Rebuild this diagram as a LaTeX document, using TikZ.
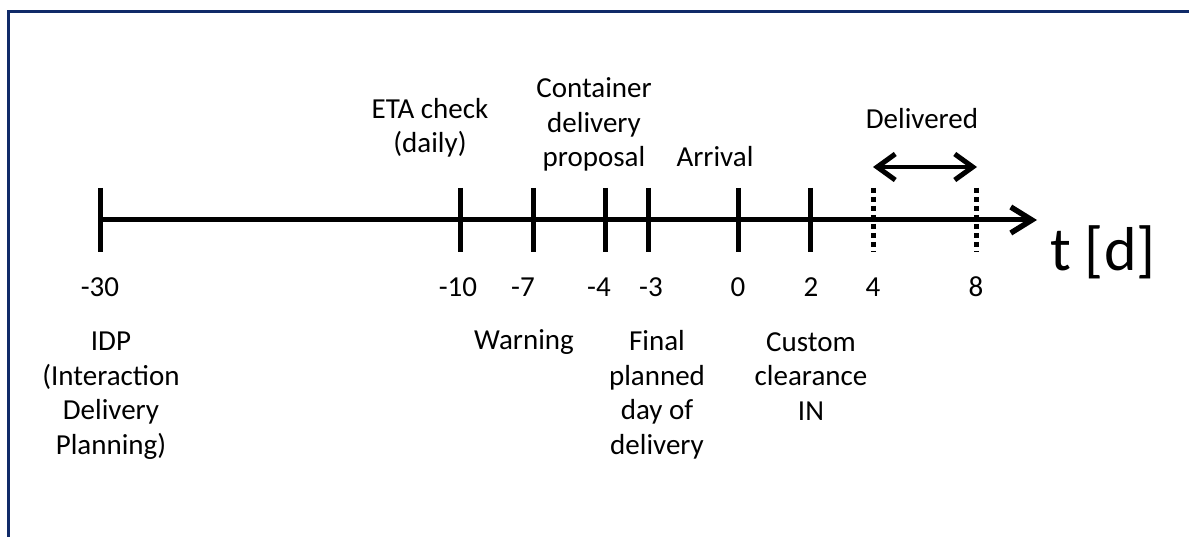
\documentclass[tikz,border=0pt]{standalone}
\usepackage{fontspec}
\setmainfont{Carlito}
\usetikzlibrary{arrows.meta}
\definecolor{framenavy}{RGB}{16,42,104}
\begin{document}
\begin{tikzpicture}[x=1pt,y=-1pt,
  % the base anchor of a wrapped label sits on its last line
  lbl/.style={align=center,anchor=base,inner sep=0pt,
    font=\fontsize{29}{34.5}\selectfont},
  tick/.style={line width=5pt},
  dtick/.style={line width=5pt,dash pattern=on 5pt off 4pt},
  axis/.style={line width=5pt,-{Straight Barb[length=21pt,width=26pt,line width=5.5pt]}},
  span/.style={line width=4.5pt,{Straight Barb[length=18pt,width=26pt,line width=5pt]}-{Straight Barb[length=18pt,width=26pt,line width=5pt]}}]
\useasboundingbox (0,0) rectangle (1189,537);
% frame (only the top and left edges fall inside the page)
\draw[framenavy,line width=3pt] (8.5,560) -- (8.5,11.5) -- (1210,11.5);

% time axis
\coordinate (start) at (100,220);
\coordinate (tip) at (1037,220);
\draw[axis] (start) -- (tip);

% solid ticks
\foreach \name/\x in {m30/100,m10/460,m7/533,m4/605,m3/648,z0/738,p2/810}{
  \coordinate (\name top) at (\x,188);
  \coordinate (\name bot) at (\x,252);
  \draw[tick] (\name top) -- (\name bot);
}
% dotted ticks for the delivery window
\foreach \name/\x in {p4/873,p8/976}{
  \coordinate (\name top) at (\x,188);
  \coordinate (\name bot) at (\x,252);
  \draw[dtick] (\name top) -- (\name bot);
}

% delivery window
\coordinate (dl) at (873,167);
\coordinate (dr) at (977,167);
\draw[span] (dl) -- (dr);
\node[lbl] (delivered) at (922,129) {Delivered};

% axis unit
\node[anchor=base west,inner sep=0pt,font=\fontsize{62}{70}\selectfont] (unit) at (1050,271) {t [d]};

% day numbers
\node[lbl] (n30) at (100,297) {-30};
\node[lbl] (n10) at (458,297) {-10};
\node[lbl] (n7) at (523,297) {-7};
\node[lbl] (n4) at (599,297) {-4};
\node[lbl] (n3) at (651,297) {-3};
\node[lbl] (n0) at (738,297) {0};
\node[lbl] (n2) at (811,297) {2};
\node[lbl] (n4b) at (873,297) {4};
\node[lbl] (n8) at (976,297) {8};

% events above the axis
\node[lbl] (eta) at (430,153) {ETA check\\(daily)};
\node[lbl] (cdp) at (594,167) {Container\\delivery\\proposal};
\node[lbl] (arr) at (715,167) {Arrival};

% events below the axis
\node[lbl] (idp) at (111,454) {IDP\\(Interaction\\Delivery\\Planning)};
\node[lbl] (warn) at (524,350) {Warning};
\node[lbl] (final) at (657,454) {Final\\planned\\day of\\delivery};
\node[lbl] (cust) at (811,420) {Custom\\clearance\\IN};
\end{tikzpicture}
\end{document}
